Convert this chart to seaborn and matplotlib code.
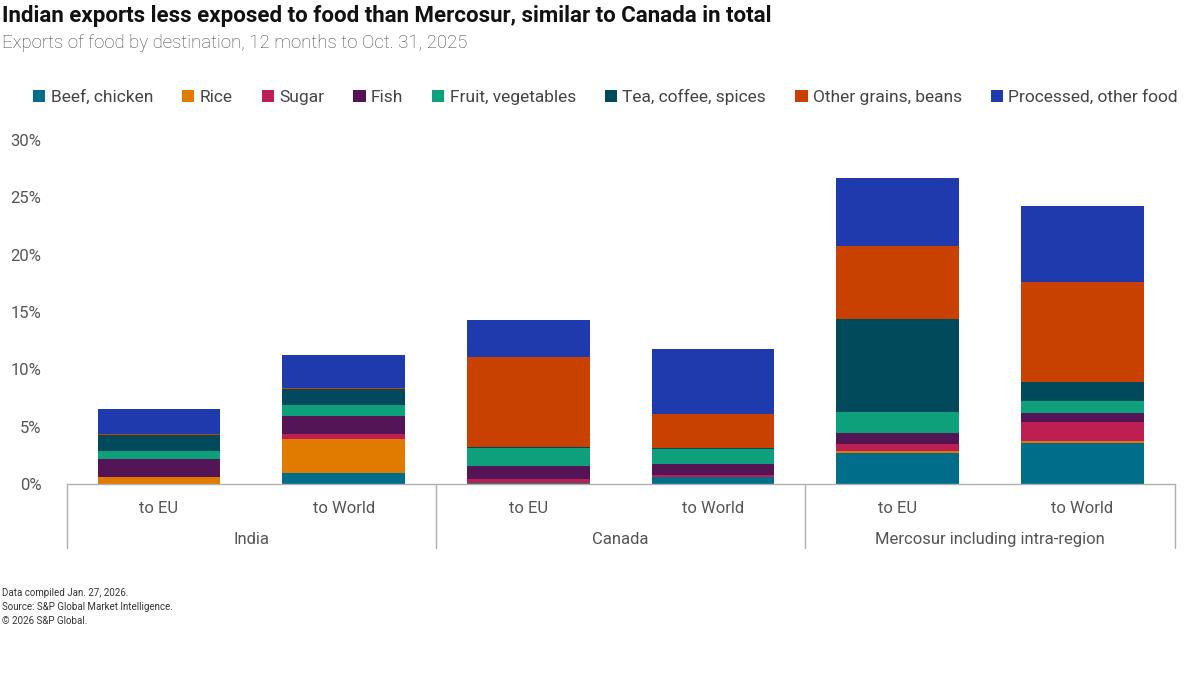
import numpy as np
import pandas as pd
import matplotlib
matplotlib.use('Agg')
import matplotlib.pyplot as plt
from matplotlib.patches import Patch
import seaborn as sb

# Data (share of total exports, %)
destinations = ['India to EU', 'India to World', 'Canada to EU', 'Canada to World',
                'Mercosur to EU', 'Mercosur to World']
tick_labels = ['to EU', 'to World'] * 3
groups = ['India', 'Canada', 'Mercosur including intra-region']
categories = ['Beef, chicken', 'Rice', 'Sugar', 'Fish', 'Fruit, vegetables',
              'Tea, coffee, spices', 'Other grains, beans', 'Processed, other food']
beef = [0.02, 0.99, 0.06, 0.64, 2.70, 3.60]
rice = [0.56, 2.91, 0.00, 0.00, 0.18, 0.18]
sugar = [0.03, 0.43, 0.35, 0.14, 0.61, 1.62]
fish = [1.54, 1.60, 1.16, 0.93, 0.93, 0.76]
fruit = [0.75, 0.97, 1.57, 1.31, 1.89, 1.08]
tea = [1.40, 1.40, 0.06, 0.12, 8.08, 1.62]
grains = [0.10, 0.10, 7.90, 2.93, 6.36, 8.75]
processed = [2.11, 2.85, 3.20, 5.67, 5.90, 6.63]
colours = ['#006D8A', '#E07B00', '#BD1F52', '#531555', '#0E9F7B', '#014A5B', '#C84100', '#1F3AAD']

df = pd.DataFrame({'dest': destinations, 'Beef, chicken': beef, 'Rice': rice, 'Sugar': sugar,
                   'Fish': fish, 'Fruit, vegetables': fruit, 'Tea, coffee, spices': tea,
                   'Other grains, beans': grains, 'Processed, other food': processed})

sb.set_style('white')
plt.rcParams['font.family'] = ['Roboto', 'DejaVu Sans']

fig = plt.figure(figsize=(12, 6.92), dpi=100)
ax = fig.add_axes([0.0555, 0.3006, 0.979 - 0.0555, 0.7977 - 0.3006])

# stacked bars
bottom = np.zeros(len(destinations))
for cat, col in zip(categories, colours):
    sb.barplot(data=df, x='dest', y=cat, order=destinations, color=col, width=0.665,
               errorbar=None, bottom=bottom, linewidth=0, saturation=1, ax=ax)
    bottom = bottom + df[cat].values

ax.set_xlim(-0.5, 5.5)
ax.set_ylim(0, 30)
ax.set_yticks([0, 5, 10, 15, 20, 25, 30])
ax.set_yticklabels([f'{v}%' for v in [0, 5, 10, 15, 20, 25, 30]])
ax.set_xticks(range(6))
ax.set_xticklabels(tick_labels)
ax.set_xlabel('')
ax.set_ylabel('')
ax.tick_params(axis='y', length=0, pad=18, labelsize=12, labelcolor='#555555')
ax.tick_params(axis='x', length=0, pad=12, labelsize=12, labelcolor='#555555')
for s in ['top', 'right', 'left']:
    ax.spines[s].set_visible(False)
ax.spines['bottom'].set_color('#b0b0b0')
ax.spines['bottom'].set_linewidth(1)

# group boxes below the axis
trans = ax.get_xaxis_transform()
for xv in [-0.5, 1.5, 3.5, 5.5]:
    ax.plot([xv, xv], [0, -0.186], transform=trans, color='#b0b0b0', lw=1, clip_on=False)
for i, g in enumerate(groups):
    ax.text(2 * i + 0.5, -0.16, g, transform=trans, ha='center', va='center',
            fontsize=12, color='#555555')

# legend
handles = [Patch(facecolor=c, edgecolor='none') for c in colours]
fig.legend(handles, categories, loc='center left', bbox_to_anchor=(0.022, 1 - 97 / 692),
           ncol=8, frameon=False, fontsize=12.5, handlelength=0.7, handleheight=0.7,
           handletextpad=0.3, columnspacing=1.68, labelcolor='#444444', borderaxespad=0)

# titles
fig.text(0.002, 1 - 16 / 692, 'Indian exports less exposed to food than Mercosur, similar to Canada in total',
         fontsize=16, fontweight='bold', color='#111111', va='center')
fig.text(0.002, 1 - 43 / 692, 'Exports of food by destination, 12 months to Oct. 31, 2025',
         fontsize=13.4, fontweight='light', color='#444444', va='center')

# footer
for j, line in enumerate(['Data compiled Jan. 27, 2026.', 'Source: S&P Global Market Intelligence.',
                          '\u00a9 2026 S&P Global.']):
    fig.text(0.002, 1 - (593 + 14 * j) / 692, line, fontsize=7, color='#333333', va='center')

fig.savefig('out.png', dpi=100)
